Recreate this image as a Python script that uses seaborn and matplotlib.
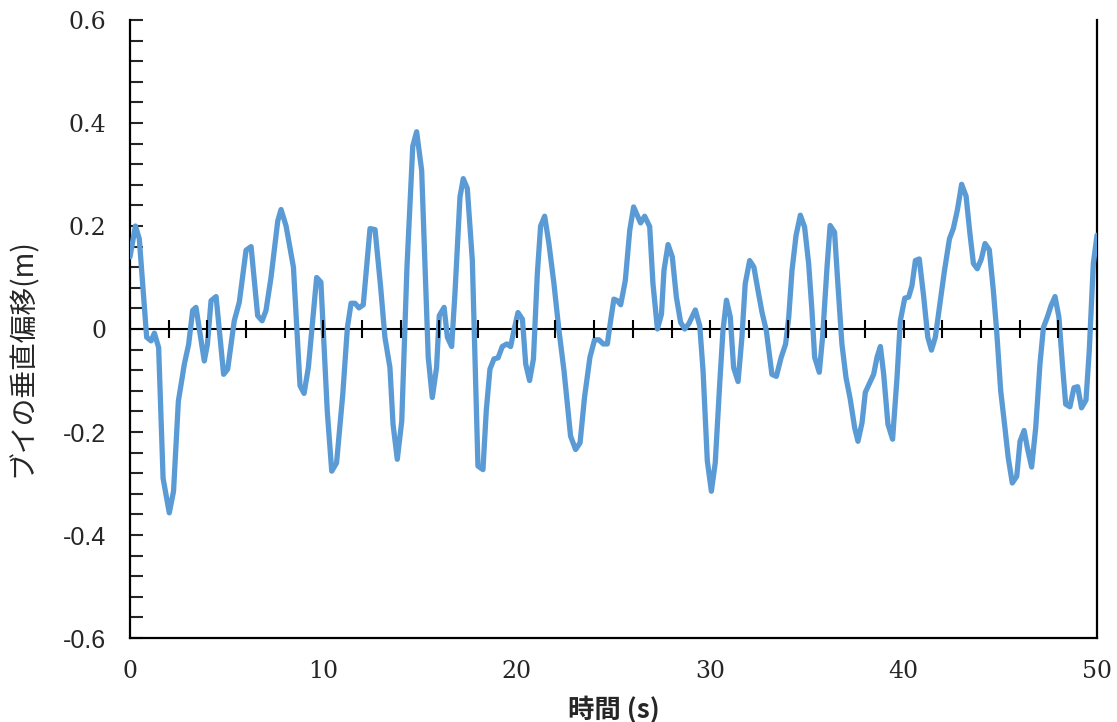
import matplotlib
matplotlib.use("Agg")
import matplotlib.pyplot as plt
import seaborn as sns
import numpy as np

# time (s) and vertical displacement (m)
time_s = [0.0, 0.28, 0.48, 0.86, 1.09, 1.26, 1.48, 1.71, 2.03, 2.25, 2.5, 2.81, 3.03, 3.24, 3.41,
          3.84, 4.0, 4.19, 4.45, 4.84, 5.05, 5.39, 5.65, 6.0, 6.26, 6.6, 6.83, 7.03, 7.29, 7.64,
          7.81, 8.07, 8.45, 8.79, 9.0, 9.22, 9.65, 9.87, 10.2, 10.43, 10.68, 11.0, 11.24, 11.43,
          11.63, 11.84, 12.06, 12.41, 12.67, 12.96, 13.18, 13.44, 13.6, 13.82, 14.05, 14.32,
          14.62, 14.82, 15.08, 15.42, 15.63, 15.85, 15.99, 16.24, 16.41, 16.63, 16.8, 17.06,
          17.23, 17.44, 17.7, 17.99, 18.25, 18.42, 18.61, 18.82, 19.03, 19.25, 19.48, 19.68,
          19.85, 20.06, 20.29, 20.46, 20.66, 20.86, 21.06, 21.23, 21.44, 21.66, 21.92, 22.18,
          22.44, 22.78, 23.04, 23.27, 23.5, 23.78, 24.02, 24.25, 24.47, 24.68, 24.85, 25.02,
          25.2, 25.37, 25.61, 25.84, 26.04, 26.4, 26.61, 26.87, 27.04, 27.27, 27.48, 27.61,
          27.82, 28.04, 28.25, 28.47, 28.68, 28.89, 29.23, 29.46, 29.63, 29.85, 30.06, 30.26,
          30.49, 30.66, 30.84, 31.04, 31.21, 31.44, 31.64, 31.81, 32.04, 32.26, 32.47, 32.68,
          32.9, 33.19, 33.42, 33.67, 33.9, 34.06, 34.23, 34.44, 34.66, 34.88, 35.09, 35.26,
          35.4, 35.64, 35.81, 36.04, 36.2, 36.43, 36.6, 36.81, 37.02, 37.24, 37.47, 37.64,
          37.85, 38.02, 38.23, 38.45, 38.63, 38.8, 38.97, 39.19, 39.43, 39.66, 39.83, 40.06,
          40.26, 40.43, 40.61, 40.81, 41.04, 41.25, 41.44, 41.64, 41.85, 42.1, 42.37, 42.57,
          42.78, 43.0, 43.23, 43.43, 43.61, 43.81, 44.02, 44.21, 44.43, 44.64, 44.81, 45.02,
          45.24, 45.41, 45.62, 45.85, 46.02, 46.23, 46.4, 46.62, 46.83, 47.05, 47.23, 47.43,
          47.62, 47.83, 48.03, 48.21, 48.38, 48.6, 48.81, 49.0, 49.2, 49.43, 49.6, 49.81, 50.0]

displacement_m = [0.14, 0.2, 0.175, -0.016, -0.023, -0.008, -0.036, -0.29, -0.357, -0.315, -0.14,
                  -0.068, -0.03, 0.036, 0.042, -0.062, -0.03, 0.055, 0.063, -0.088, -0.078,
                  0.016, 0.052, 0.153, 0.16, 0.026, 0.016, 0.036, 0.1, 0.21, 0.232, 0.2, 0.12,
                  -0.11, -0.125, -0.075, 0.1, 0.091, -0.16, -0.276, -0.26, -0.127, 0.003, 0.05,
                  0.05, 0.041, 0.047, 0.195, 0.193, 0.081, -0.016, -0.075, -0.185, -0.253,
                  -0.179, 0.12, 0.355, 0.383, 0.308, -0.055, -0.133, -0.075, 0.026, 0.042,
                  -0.016, -0.034, 0.068, 0.256, 0.292, 0.273, 0.133, -0.266, -0.273, -0.159,
                  -0.078, -0.058, -0.056, -0.034, -0.029, -0.034, -0.003, 0.032, 0.019, -0.068,
                  -0.1, -0.058, 0.107, 0.2, 0.219, 0.166, 0.088, -0.003, -0.081, -0.208,
                  -0.234, -0.221, -0.133, -0.055, -0.021, -0.021, -0.029, -0.029, 0.016,
                  0.058, 0.055, 0.047, 0.094, 0.192, 0.237, 0.206, 0.219, 0.199, 0.088, 0.0,
                  0.029, 0.114, 0.164, 0.14, 0.062, 0.013, 0.0, 0.01, 0.037, 0.006, -0.081,
                  -0.256, -0.315, -0.26, -0.107, -0.003, 0.056, 0.023, -0.075, -0.102, -0.016,
                  0.088, 0.133, 0.12, 0.075, 0.032, -0.003, -0.088, -0.092, -0.055, -0.029,
                  0.023, 0.114, 0.182, 0.221, 0.198, 0.127, 0.036, -0.055, -0.084, -0.016,
                  0.12, 0.201, 0.188, 0.088, -0.029, -0.094, -0.136, -0.192, -0.218, -0.182,
                  -0.123, -0.106, -0.088, -0.054, -0.034, -0.088, -0.185, -0.214, -0.094,
                  0.016, 0.06, 0.062, 0.084, 0.133, 0.136, 0.062, -0.016, -0.041, -0.016,
                  0.042, 0.11, 0.175, 0.195, 0.231, 0.281, 0.258, 0.185, 0.127, 0.117, 0.136,
                  0.166, 0.154, 0.075, -0.003, -0.12, -0.192, -0.25, -0.299, -0.286, -0.218,
                  -0.197, -0.231, -0.268, -0.192, -0.068, 0.003, 0.023, 0.045, 0.063, 0.023,
                  -0.068, -0.146, -0.151, -0.114, -0.112, -0.153, -0.138, -0.042, 0.127, 0.182]

# positive and negative y labels are set in different typefaces in the original
y_ticks_pos = [0, 0.2, 0.4, 0.6]
y_labels_pos = ["0", "0.2", "0.4", "0.6"]
y_ticks_neg = [-0.6, -0.4, -0.2]
y_labels_neg = ["-0.6", "-0.4", "-0.2"]
x_ticks = [0, 10, 20, 30, 40, 50]
x_tick_labels = ["0", "10", "20", "30", "40", "50"]

sns.set_style("white")
plt.rcParams["font.family"] = ["Noto Sans CJK JP", "DejaVu Sans"]

fig = plt.figure(figsize=(11.17, 7.22), dpi=100)
ax = fig.add_axes([0.1164, 0.1163, 0.8657, 0.856])

sns.lineplot(x=time_s, y=displacement_m, ax=ax, color="#5B9BD5", linewidth=3.8, zorder=3)
ax.axhline(0, color="black", linewidth=1.5, zorder=2)

ax.set_xlim(0, 50)
ax.set_ylim(-0.6, 0.6)

for side in ["left", "bottom", "right"]:
    ax.spines[side].set_visible(True)
    ax.spines[side].set_color("black")
    ax.spines[side].set_linewidth(1.6)
ax.spines["top"].set_visible(False)

# y axis: inward ticks every 0.04 (minor covers all positions)
ax.set_yticks(y_ticks_pos, y_labels_pos)
ax.set_yticks(np.arange(-0.6, 0.61, 0.04), minor=True)
ax.tick_params(axis="y", which="both", direction="in", length=9, width=1.5,
               left=True, right=False, pad=17, labelsize=17,
               labelfontfamily="DejaVu Serif")

sec = ax.secondary_yaxis("left")
sec.set_yticks(y_ticks_neg, y_labels_neg)
sec.tick_params(axis="y", length=0, pad=17, labelsize=18, labelfontfamily="Liberation Sans")
sec.spines["left"].set_visible(False)

# x axis labels at the bottom, no ticks there
ax.set_xticks(x_ticks, x_tick_labels)
ax.tick_params(axis="x", which="both", length=0, pad=16, labelsize=17,
               labelfontfamily="DejaVu Serif")

# crossing ticks along the zero line
ax2 = ax.twiny()
ax2.set_xlim(0, 50)
ax2.spines["bottom"].set_position(("data", 0))
for side in ["top", "left", "right", "bottom"]:
    ax2.spines[side].set_visible(False)
ax2.xaxis.set_ticks_position("bottom")
ax2.set_xticks(np.arange(0, 51, 2))
ax2.tick_params(axis="x", direction="inout", length=13, width=1.5, labelbottom=False,
                labeltop=False, color="black")

ax.set_xlabel("時間 (s)", fontsize=19, fontweight="bold", labelpad=9)
ax.set_ylabel("ブイの垂直偏移(m)", fontsize=20)
ax.yaxis.set_label_coords(-0.095, 0.453)

fig.savefig("out.png", dpi=100)
